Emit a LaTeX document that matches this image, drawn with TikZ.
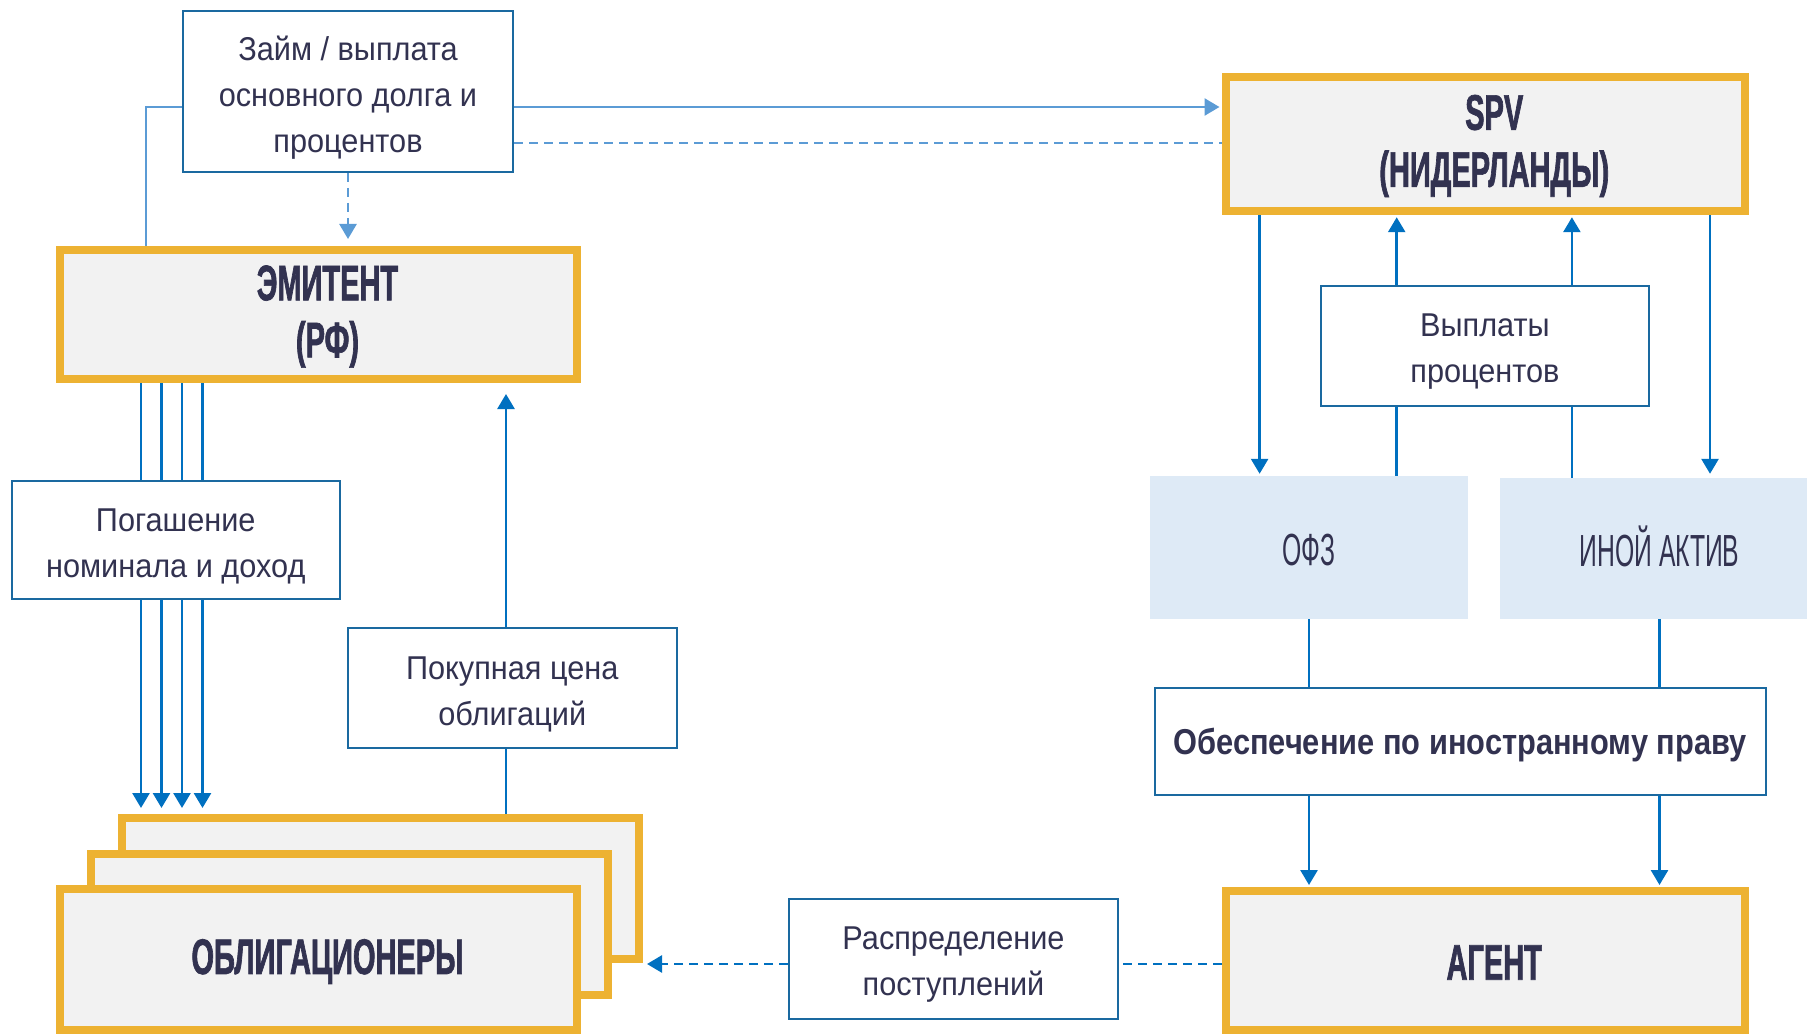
\documentclass[tikz,border=0pt]{standalone}
\usepackage{fontspec}
\setmainfont{Liberation Sans}[FakeStretch=0.93]
\newfontfamily\hfont{Liberation Sans}[FakeStretch=0.58, BoldFeatures={FakeBold=1.3}]
\newfontfamily\afont{Liberation Sans}[FakeStretch=0.55]
\newfontfamily\bfont{Liberation Sans}[FakeStretch=0.855]
\usetikzlibrary{arrows.meta}
\definecolor{orangec}{RGB}{237,178,50}
\definecolor{grayfill}{RGB}{242,242,242}
\definecolor{lbfill}{RGB}{222,234,246}
\definecolor{boxc}{RGB}{26,105,160}
\definecolor{flowc}{RGB}{0,112,192}
\definecolor{lconnc}{RGB}{91,155,213}
\definecolor{txtc}{RGB}{50,50,80}
\pgfdeclarelayer{bg}
\pgfsetlayers{bg,main}
\tikzset{
  orangebox/.style={draw=orangec, line width=8pt, fill=grayfill, inner sep=0pt},
  orangetext/.style={text=txtc, align=center, inner sep=0pt, xshift=9pt, yshift=-2pt,
    font=\hfont\bfseries\fontsize{50}{57}\selectfont},
  thinbox/.style={draw=boxc, line width=2pt, fill=white, inner sep=0pt},
  thintext/.style={text=txtc, align=center, inner sep=0pt, yshift=-6pt,
    font=\fontsize{33}{46}\selectfont},
  boldtext/.style={text=txtc, align=center, inner sep=0pt, yshift=-3pt,
    font=\bfont\bfseries\fontsize{36}{40}\selectfont},
  assetbox/.style={draw=none, fill=lbfill, inner sep=0pt},
  assettext/.style={text=txtc, align=center, inner sep=0pt,
    font=\afont\fontsize{45}{50}\selectfont},
  flow/.style={draw=flowc, line width=2.7pt},
  lconn/.style={draw=lconnc, line width=2.5pt},
  dashline/.style={dash pattern=on 9pt off 6pt},
  tip/.style={-{Triangle[width=17pt,length=15pt]}},
}
\begin{document}
\begin{tikzpicture}[x=1pt,y=-1pt]
\useasboundingbox (0,0) rectangle (1807,1035);

% obligation holders stack
\node[orangebox, minimum width=517pt, minimum height=141pt] (ob3) at (380.5,888.5) {};
\node[orangebox, minimum width=517pt, minimum height=141pt] (ob2) at (349.5,924) {};
\node[orangebox, minimum width=517pt, minimum height=141pt,
  label={[orangetext]center:ОБЛИГАЦИОНЕРЫ}] (ob1) at (318.5,959.5) {};

\node[orangebox, minimum width=517pt, minimum height=129pt,
  label={[orangetext]center:ЭМИТЕНТ\\(РФ)}] (emit) at (318.5,314.5) {};
\node[orangebox, minimum width=519.5pt, minimum height=134.5pt,
  label={[orangetext]center:SPV\\(НИДЕРЛАНДЫ)}] (spv) at (1485.25,144) {};
\node[orangebox, minimum width=519.5pt, minimum height=139pt,
  label={[orangetext]center:АГЕНТ}] (agent) at (1485.25,960.5) {};

\node[thinbox, minimum width=330pt, minimum height=160.5pt,
  label={[thintext]center:Займ / выплата\\основного долга и\\процентов}] (loan) at (348,91.75) {};
\node[thinbox, minimum width=328.5pt, minimum height=118.5pt,
  label={[thintext]center:Погашение\\номинала и доход}] (repay) at (175.75,540) {};
\node[thinbox, minimum width=328.5pt, minimum height=120pt,
  label={[thintext]center:Покупная цена\\облигаций}] (price) at (512.25,688) {};
\node[thinbox, minimum width=329pt, minimum height=120pt,
  label={[thintext]center:Распределение\\поступлений}] (distr) at (953.5,959) {};
\node[thinbox, minimum width=328.5pt, minimum height=120pt,
  label={[thintext]center:Выплаты\\процентов}] (coupon) at (1484.9,345.7) {};
\node[thinbox, minimum width=611pt, minimum height=107pt,
  label={[boldtext]center:Обеспечение по иностранному праву}] (collat) at (1460,741.6) {};

\node[assetbox, minimum width=318pt, minimum height=143pt,
  label={[assettext, yshift=-3pt]center:ОФЗ}] (ofz) at (1309,547.5) {};
\node[assetbox, minimum width=307pt, minimum height=141pt,
  label={[assettext, xshift=6pt, yshift=2pt]center:ИНОЙ АКТИВ}] (other) at (1653.5,548.5) {};

\begin{pgfonlayer}{bg}
% loan box connectors
\coordinate (tl) at (146,107);
\coordinate (ty1) at (0,107);
\coordinate (ty2) at (0,143);
\draw[lconn] (loan.west |- tl) -- (tl) -- (tl |- emit.north);
\draw[lconn, tip, shorten >=2pt] (loan.east |- ty1) -- (spv.west |- ty1);
\draw[lconn, dashline] (loan.east |- ty2) -- (spv.west |- ty2);
\draw[lconn, dashline, tip, shorten >=7pt] (loan.south) -- (loan.south |- emit.north);

% repayment lines
\foreach \i/\xx in {1/141,2/161.5,3/182,4/202.5}{
  \coordinate (rv\i) at (\xx,0);
  \draw[flow, tip, shorten >=6pt] (rv\i |- emit.south) -- (rv\i |- ob3.north);
}
% purchase price
\coordinate (pv) at (506,0);
\draw[flow, tip, shorten >=11pt] (pv |- ob3.north) -- (pv |- emit.south);

% SPV <-> assets
\coordinate (s1) at (1259.6,0);
\coordinate (s2) at (1396.7,0);
\coordinate (s3) at (1571.9,0);
\coordinate (s4) at (1710,0);
\draw[flow, tip, shorten >=2pt] (s1 |- spv.south) -- (s1 |- ofz.north);
\draw[flow, tip, shorten >=4pt] (s4 |- spv.south) -- (s4 |- other.north);
\draw[flow, tip, shorten >=2pt] (s2 |- ofz.north) -- (s2 |- spv.south);
\draw[flow, tip, shorten >=2pt] (s3 |- other.north) -- (s3 |- spv.south);

% assets -> agent
\coordinate (a1) at (1309,0);
\coordinate (a2) at (1659.5,0);
\draw[flow, tip, shorten >=2pt] (a1 |- ofz.south) -- (a1 |- agent.north);
\draw[flow, tip, shorten >=2pt] (a2 |- other.south) -- (a2 |- agent.north);

% distribution
\coordinate (dy) at (0,964);
\draw[flow, dashline] (agent.west |- dy) -- (distr.east |- dy);
\draw[flow, dashline, tip, shorten >=4pt] (distr.west |- dy) -- (ob3.east |- dy);
\end{pgfonlayer}
\end{tikzpicture}
\end{document}
